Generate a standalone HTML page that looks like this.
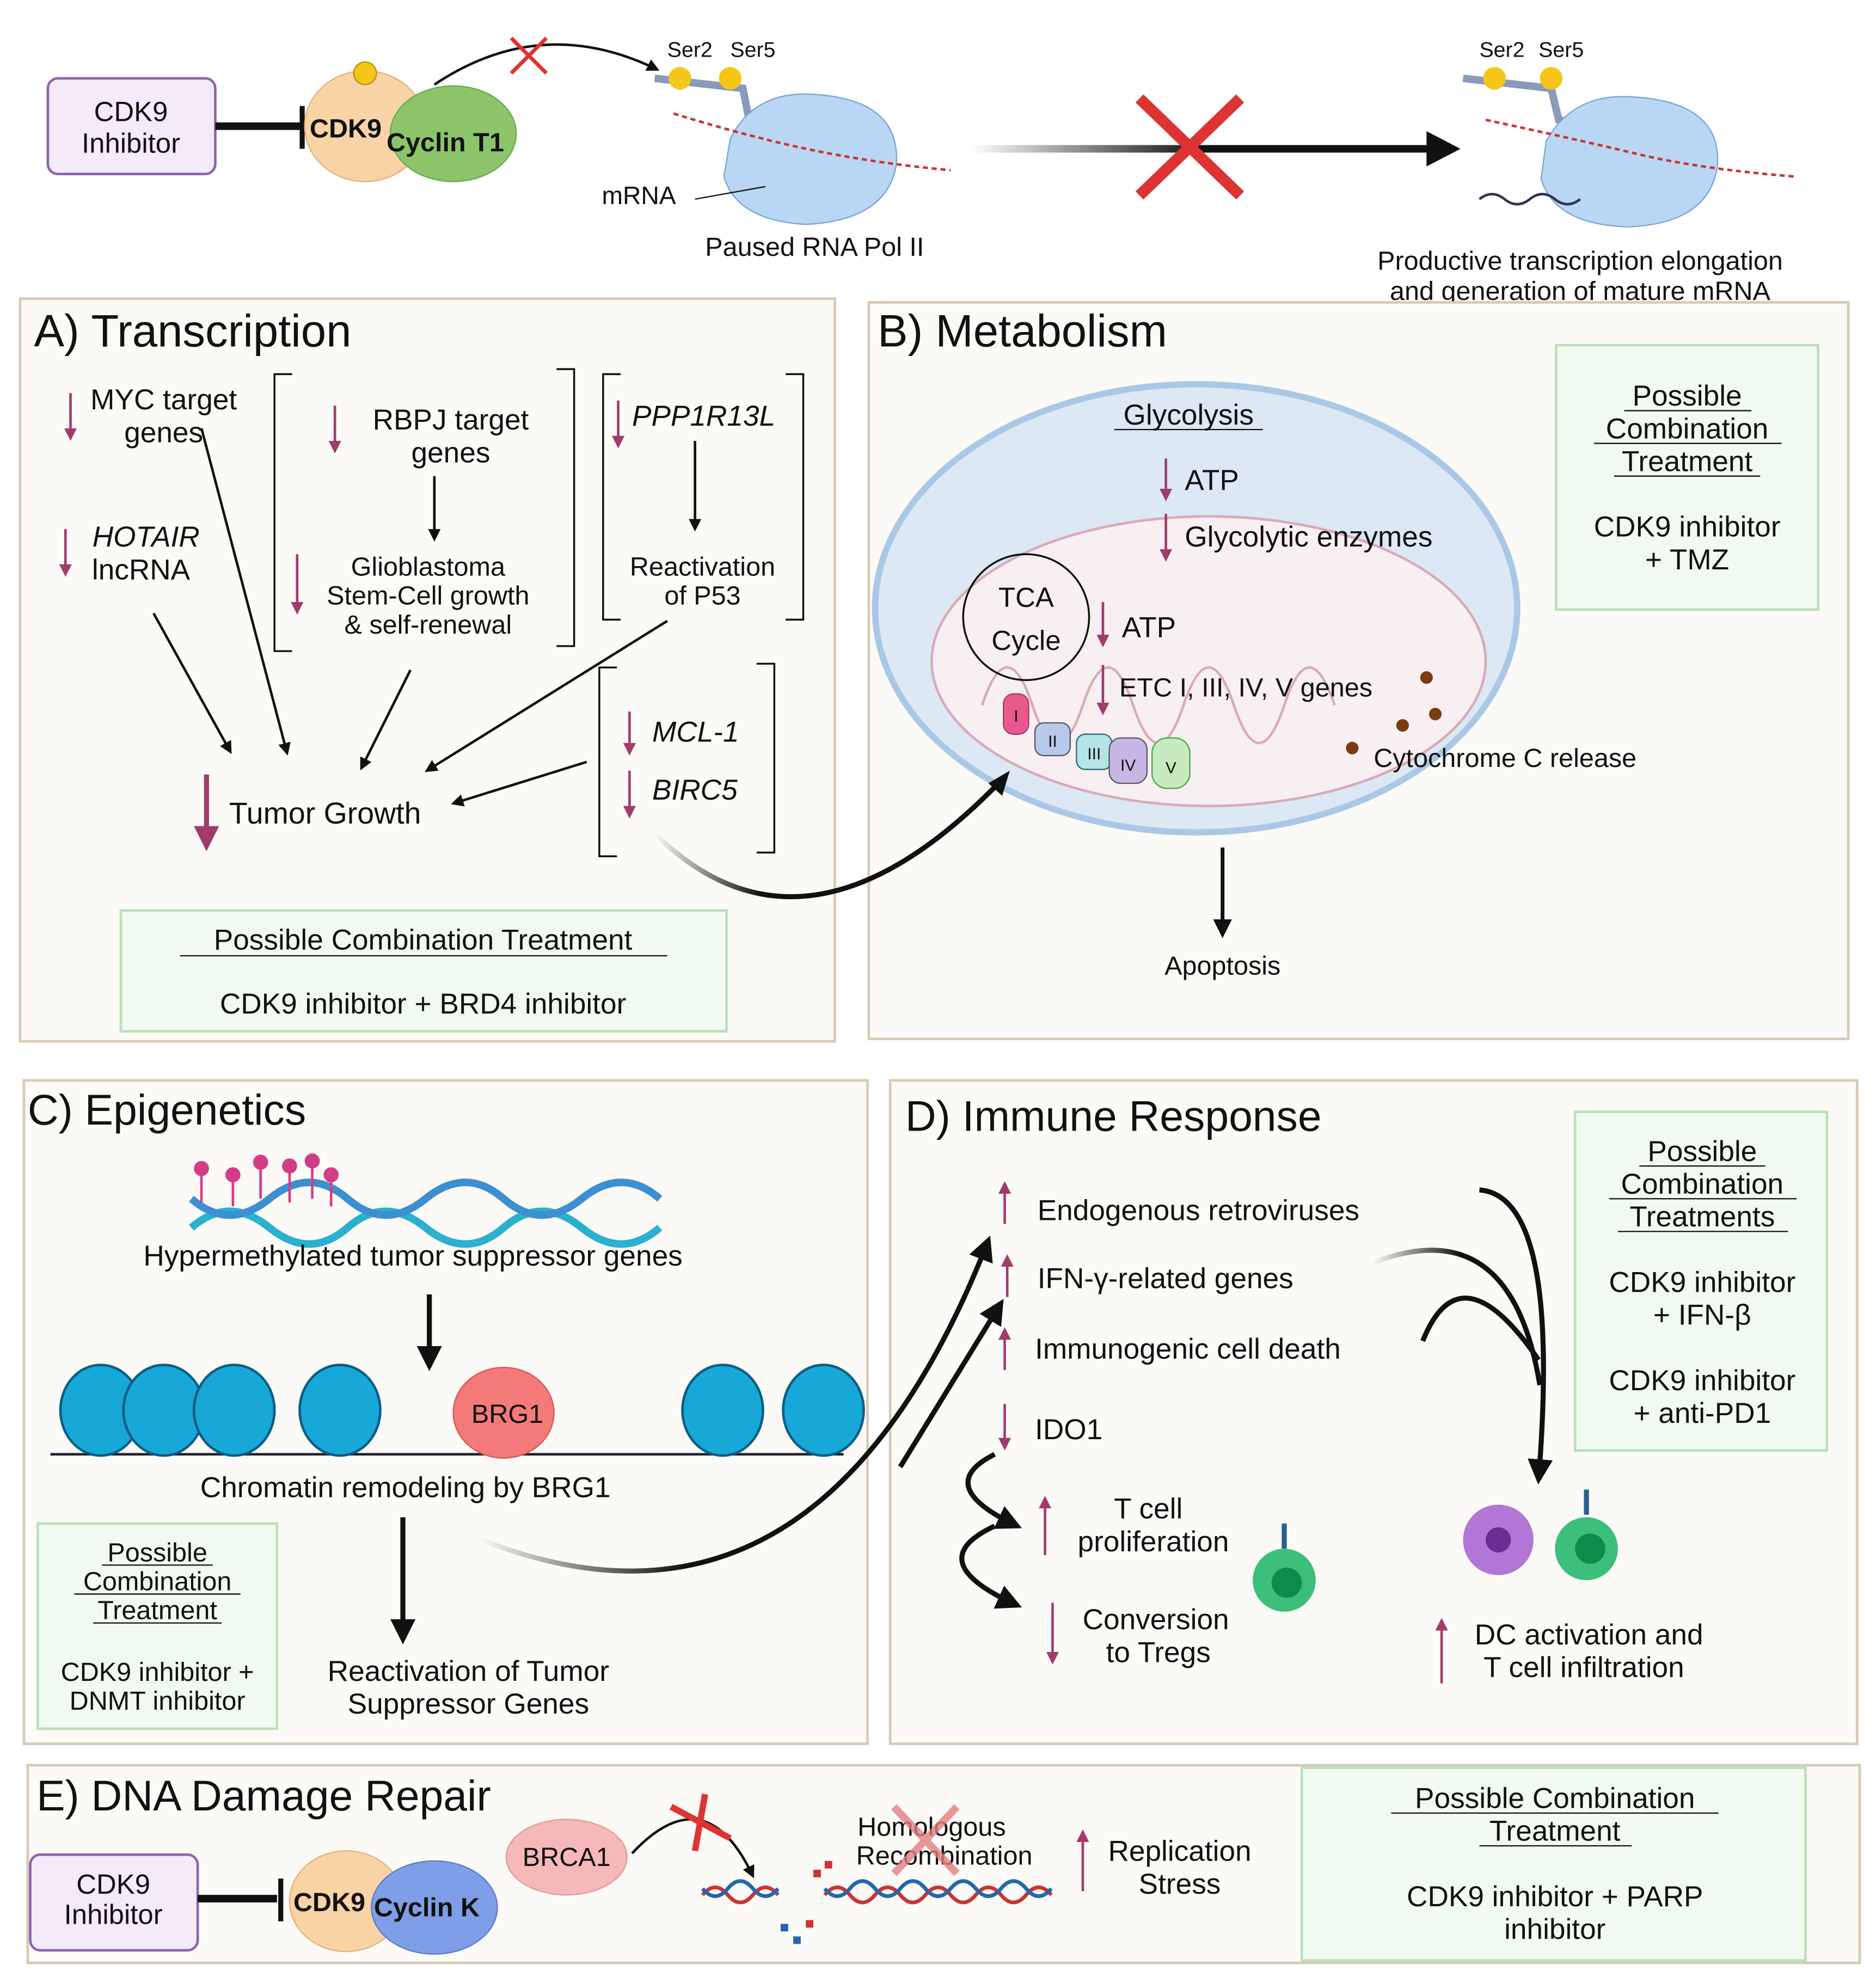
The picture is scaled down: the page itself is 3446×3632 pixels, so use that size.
<!DOCTYPE html>
<html><head><meta charset="utf-8"><style>
html,body{margin:0;padding:0;background:#fff;}
svg{display:block;}
text{font-family:"Liberation Sans",sans-serif;fill:#111;}
</style></head><body>
<svg width="3446" height="3632" viewBox="0 0 1490 1570" xmlns="http://www.w3.org/2000/svg">
<defs>
<marker id="ab" viewBox="0 0 10 10" refX="8" refY="5" markerWidth="5" markerHeight="5" orient="auto"><path d="M0,0L10,5L0,10z" fill="#111"/></marker>
<marker id="ap" viewBox="0 0 10 10" refX="8" refY="5" markerWidth="5" markerHeight="5" orient="auto"><path d="M0,0L10,5L0,10z" fill="#a33a6c"/></marker>
<linearGradient id="gf" gradientUnits="userSpaceOnUse" x1="770" y1="0" x2="1140" y2="0"><stop offset="0" stop-color="#111" stop-opacity="0"/><stop offset="0.5" stop-color="#111"/><stop offset="1" stop-color="#111"/></linearGradient>
<linearGradient id="gAB" gradientUnits="userSpaceOnUse" x1="520" y1="0" x2="800" y2="0"><stop offset="0" stop-color="#111" stop-opacity="0"/><stop offset="0.3" stop-color="#111"/><stop offset="1" stop-color="#111"/></linearGradient>
<linearGradient id="gCD" gradientUnits="userSpaceOnUse" x1="380" y1="0" x2="790" y2="0"><stop offset="0" stop-color="#111" stop-opacity="0"/><stop offset="0.4" stop-color="#111"/><stop offset="1" stop-color="#111"/></linearGradient>
<linearGradient id="gD" gradientUnits="userSpaceOnUse" x1="1090" y1="0" x2="1230" y2="0"><stop offset="0" stop-color="#111" stop-opacity="0"/><stop offset="0.5" stop-color="#111"/><stop offset="1" stop-color="#111"/></linearGradient>
</defs>
<rect width="1490" height="1570" fill="#fff"/>

<!-- TOP -->
<rect x="38" y="62" width="133" height="76" rx="8" fill="#f3eafa" stroke="#8f63ad" stroke-width="2"/>
<text x="104" y="96" font-size="22" text-anchor="middle">CDK9</text>
<text x="104" y="121" font-size="22" text-anchor="middle">Inhibitor</text>
<line x1="171" y1="100" x2="238" y2="100" stroke="#111" stroke-width="6"/>
<line x1="240" y1="84" x2="240" y2="118" stroke="#111" stroke-width="4"/>
<ellipse cx="290" cy="100" rx="48" ry="44" fill="#f8d3a6" stroke="#e6b27a"/>
<ellipse cx="360" cy="106" rx="50" ry="38" fill="#8cc46a" stroke="#6aa84f"/>
<circle cx="290" cy="58" r="9" fill="#f5c518" stroke="#b8900c"/>
<text x="246" y="109" font-size="21" font-weight="bold">CDK9</text>
<text x="307" y="120" font-size="21" font-weight="bold">Cyclin T1</text>
<path d="M345,67 Q430,10 522,55" fill="none" stroke="#111" stroke-width="2" marker-end="url(#ab)"/>
<path d="M406,30L434,58M434,30L406,58" stroke="#d33" stroke-width="3"/>
<text x="530" y="45" font-size="17">Ser2</text><text x="580" y="45" font-size="17">Ser5</text>
<path d="M520,62 L590,70 L595,95 L620,100" fill="none" stroke="#8a9ab8" stroke-width="6"/>
<circle cx="540" cy="62" r="9" fill="#f5c518"/><circle cx="580" cy="62" r="9" fill="#f5c518"/>
<path d="M580,110 Q600,70 650,75 Q715,80 712,130 Q705,175 640,178 Q585,175 575,140z" fill="#b9d6f4" stroke="#7aa6d6"/>
<path d="M535,90 Q600,110 650,120 T755,135" fill="none" stroke="#c33" stroke-width="2" stroke-dasharray="4 3"/>
<text x="478" y="162" font-size="20">mRNA</text>
<line x1="552" y1="158" x2="608" y2="148" stroke="#111"/>
<text x="647" y="203" font-size="21" text-anchor="middle">Paused RNA Pol II</text>
<line x1="770" y1="118" x2="1140" y2="118" stroke="url(#gf)" stroke-width="6"/>
<path d="M1133,104 L1160,118 L1133,132z" fill="#111"/>
<path d="M905,78L985,155M985,78L905,155" stroke="#d33" stroke-width="9"/>
<text x="1175" y="45" font-size="17">Ser2</text><text x="1222" y="45" font-size="17">Ser5</text>
<path d="M1162,62 L1232,70 L1238,95 L1262,100" fill="none" stroke="#8a9ab8" stroke-width="6"/>
<circle cx="1187" cy="62" r="9" fill="#f5c518"/><circle cx="1232" cy="62" r="9" fill="#f5c518"/>
<path d="M1228,112 Q1250,72 1300,77 Q1368,82 1364,132 Q1357,178 1292,180 Q1235,178 1224,142z" fill="#b9d6f4" stroke="#7aa6d6"/>
<path d="M1180,95 Q1250,110 1300,122 T1425,140" fill="none" stroke="#c33" stroke-width="2" stroke-dasharray="4 3"/>
<path d="M1175,158 q10,-8 20,0 t20,0 t20,0 t20,0" fill="none" stroke="#335" stroke-width="2"/>
<text x="1255" y="214" font-size="21" text-anchor="middle">Productive transcription elongation</text>
<text x="1255" y="238" font-size="21" text-anchor="middle">and generation of mature mRNA</text>

<!-- PANEL A -->
<rect x="16" y="237" width="647" height="590" fill="#fbfaf6" stroke="#d6c9b4" stroke-width="2"/>
<text x="27" y="275" font-size="36">A) Transcription</text>
<g stroke="#a33a6c" stroke-width="2" marker-end="url(#ap)">
<line x1="56" y1="312" x2="56" y2="348"/><line x1="52" y1="420" x2="52" y2="456"/>
<line x1="266" y1="322" x2="266" y2="358"/><line x1="236" y1="440" x2="236" y2="486"/>
<line x1="491" y1="318" x2="491" y2="354"/><line x1="500" y1="565" x2="500" y2="598"/>
<line x1="500" y1="612" x2="500" y2="648"/>
</g>
<line x1="164" y1="615" x2="164" y2="672" stroke="#a33a6c" stroke-width="4" marker-end="url(#ap)"/>
<text x="130" y="325" font-size="23" text-anchor="middle">MYC target</text>
<text x="130" y="351" font-size="23" text-anchor="middle">genes</text>
<text x="116" y="434" font-size="23" text-anchor="middle" font-style="italic">HOTAIR</text>
<text x="112" y="460" font-size="23" text-anchor="middle">lncRNA</text>
<path d="M232,297h-14v220h14M442,293h14v220h-14" fill="none" stroke="#111" stroke-width="1.5"/>
<text x="358" y="341" font-size="23" text-anchor="middle">RBPJ target</text>
<text x="358" y="367" font-size="23" text-anchor="middle">genes</text>
<line x1="345" y1="378" x2="345" y2="428" stroke="#111" stroke-width="2" marker-end="url(#ab)"/>
<text x="340" y="457" font-size="21" text-anchor="middle">Glioblastoma</text>
<text x="340" y="480" font-size="21" text-anchor="middle">Stem-Cell growth</text>
<text x="340" y="503" font-size="21" text-anchor="middle">&amp; self-renewal</text>
<path d="M493,297h-14v195h14M624,297h14v195h-14" fill="none" stroke="#111" stroke-width="1.5"/>
<text x="502" y="338" font-size="23" font-style="italic">PPP1R13L</text>
<line x1="552" y1="350" x2="552" y2="420" stroke="#111" stroke-width="2" marker-end="url(#ab)"/>
<text x="558" y="457" font-size="21" text-anchor="middle">Reactivation</text>
<text x="558" y="480" font-size="21" text-anchor="middle">of P53</text>
<path d="M490,530h-14v150h14M601,527h14v150h-14" fill="none" stroke="#111" stroke-width="1.5"/>
<text x="518" y="589" font-size="23" font-style="italic">MCL-1</text>
<text x="518" y="635" font-size="23" font-style="italic">BIRC5</text>
<text x="182" y="654" font-size="24">Tumor Growth</text>
<g stroke="#111" stroke-width="2" marker-end="url(#ab)" fill="none">
<line x1="122" y1="487" x2="183" y2="597"/><line x1="160" y1="340" x2="228" y2="598"/>
<line x1="326" y1="532" x2="287" y2="610"/><line x1="530" y1="493" x2="339" y2="612"/>
<line x1="466" y1="605" x2="360" y2="638"/>
</g>
<rect x="96" y="723" width="481" height="96" fill="#f1faf1" stroke="#b9e0bb" stroke-width="2"/>
<text x="336" y="754" font-size="23" text-anchor="middle">Possible Combination Treatment</text>
<line x1="143" y1="759" x2="530" y2="759" stroke="#111"/>
<text x="336" y="805" font-size="23" text-anchor="middle">CDK9 inhibitor + BRD4 inhibitor</text>

<!-- PANEL B -->
<rect x="690" y="240" width="778" height="585" fill="#fbfaf6" stroke="#d6c9b4" stroke-width="2"/>
<text x="697" y="275" font-size="36">B) Metabolism</text>
<ellipse cx="950" cy="483" rx="255" ry="178" fill="#dce8f4" stroke="#aac8e6" stroke-width="5"/>
<ellipse cx="960" cy="525" rx="220" ry="115" fill="#f7eff1" stroke="#d9aab8" stroke-width="2"/>
<path d="M780,560 q20,-60 40,0 q20,60 40,0 q20,-60 40,0 q20,60 40,0 q20,-60 40,0 q20,60 40,0 q20,-60 40,0" fill="none" stroke="#d9aab8" stroke-width="2"/>
<text x="944" y="337" font-size="23" text-anchor="middle">Glycolysis</text>
<line x1="885" y1="341" x2="1003" y2="341" stroke="#111"/>
<g stroke="#a33a6c" stroke-width="2" marker-end="url(#ap)">
<line x1="926" y1="364" x2="926" y2="396"/><line x1="926" y1="408" x2="926" y2="444"/>
<line x1="876" y1="478" x2="876" y2="512"/><line x1="876" y1="528" x2="876" y2="566"/>
</g>
<text x="941" y="389" font-size="23">ATP</text>
<text x="941" y="434" font-size="23">Glycolytic enzymes</text>
<circle cx="815" cy="490" r="50" fill="none" stroke="#111" stroke-width="1.5"/>
<text x="815" y="482" font-size="22" text-anchor="middle">TCA</text>
<text x="815" y="516" font-size="22" text-anchor="middle">Cycle</text>
<text x="891" y="506" font-size="23">ATP</text>
<text x="889" y="553" font-size="21">ETC I, III, IV, V genes</text>
<rect x="797" y="551" width="20" height="32" rx="8" fill="#e85a8c" stroke="#a33a6c"/>
<rect x="822" y="574" width="28" height="26" rx="7" fill="#b8c8e8" stroke="#556"/>
<rect x="855" y="583" width="28" height="28" rx="7" fill="#b4e4e6" stroke="#367"/>
<rect x="881" y="586" width="30" height="36" rx="9" fill="#c6b8e4" stroke="#556"/>
<rect x="915" y="586" width="30" height="40" rx="12" fill="#c8eac0" stroke="#4a4"/>
<text x="807" y="573" font-size="13" text-anchor="middle">I</text>
<text x="836" y="593" font-size="13" text-anchor="middle">II</text>
<text x="869" y="603" font-size="13" text-anchor="middle">III</text>
<text x="896" y="612" font-size="13" text-anchor="middle">IV</text>
<text x="930" y="614" font-size="13" text-anchor="middle">V</text>
<g fill="#7a3d12"><circle cx="1133" cy="538" r="5"/><circle cx="1114" cy="576" r="5"/><circle cx="1140" cy="567" r="5"/><circle cx="1074" cy="594" r="5"/></g>
<text x="1091" y="609" font-size="21">Cytochrome C release</text>
<line x1="971" y1="673" x2="971" y2="742" stroke="#111" stroke-width="3" marker-end="url(#ab)"/>
<text x="971" y="774" font-size="21" text-anchor="middle">Apoptosis</text>
<rect x="1236" y="274" width="208" height="210" fill="#f1faf1" stroke="#b9e0bb" stroke-width="2"/>
<g font-size="23" text-anchor="middle">
<text x="1340" y="322">Possible</text><text x="1340" y="348">Combination</text><text x="1340" y="374">Treatment</text>
<text x="1340" y="426">CDK9 inhibitor</text><text x="1340" y="452">+ TMZ</text></g>
<g stroke="#111"><line x1="1290" y1="326" x2="1391" y2="326"/><line x1="1266" y1="352" x2="1415" y2="352"/><line x1="1282" y1="378" x2="1398" y2="378"/></g>

<!-- PANEL C -->
<rect x="19" y="858" width="670" height="527" fill="#fbfaf6" stroke="#d6c9b4" stroke-width="2"/>
<text x="22" y="893" font-size="34">C) Epigenetics</text>
<path d="M152,975 q30,-26 62,0 t62,0 t62,0 t62,0 t62,0 t62,0" fill="none" stroke="#2ab0d0" stroke-width="6"/>
<path d="M152,952 q30,26 62,0 t62,0 t62,0 t62,0 t62,0 t62,0" fill="none" stroke="#3c8fd0" stroke-width="6"/>
<g stroke="#d43d86" stroke-width="2" fill="#d43d86">
<line x1="160" y1="930" x2="160" y2="955"/><circle cx="160" cy="928" r="5"/>
<line x1="185" y1="935" x2="185" y2="958"/><circle cx="185" cy="933" r="5"/>
<line x1="207" y1="925" x2="207" y2="952"/><circle cx="207" cy="923" r="5"/>
<line x1="230" y1="928" x2="230" y2="955"/><circle cx="230" cy="926" r="5"/>
<line x1="248" y1="924" x2="248" y2="952"/><circle cx="248" cy="922" r="5"/>
<line x1="263" y1="935" x2="263" y2="958"/><circle cx="263" cy="933" r="5"/></g>
<text x="328" y="1005" font-size="23" text-anchor="middle">Hypermethylated tumor suppressor genes</text>
<line x1="341" y1="1028" x2="341" y2="1085" stroke="#111" stroke-width="4" marker-end="url(#ab)"/>
<line x1="40" y1="1155" x2="670" y2="1155" stroke="#223" stroke-width="2"/>
<g fill="#18a8d8" stroke="#0b5e88" stroke-width="2">
<ellipse cx="80" cy="1120" rx="32" ry="36"/><ellipse cx="130" cy="1120" rx="32" ry="36"/><ellipse cx="186" cy="1120" rx="32" ry="36"/>
<ellipse cx="270" cy="1120" rx="32" ry="36"/><ellipse cx="574" cy="1120" rx="32" ry="36"/><ellipse cx="654" cy="1120" rx="32" ry="36"/></g>
<ellipse cx="400" cy="1122" rx="40" ry="36" fill="#f47a7a" stroke="#d55"/>
<text x="403" y="1130" font-size="21" text-anchor="middle">BRG1</text>
<text x="322" y="1189" font-size="23" text-anchor="middle">Chromatin remodeling by BRG1</text>
<line x1="320" y1="1205" x2="320" y2="1302" stroke="#111" stroke-width="4" marker-end="url(#ab)"/>
<text x="372" y="1335" font-size="23" text-anchor="middle">Reactivation of Tumor</text>
<text x="372" y="1361" font-size="23" text-anchor="middle">Suppressor Genes</text>
<rect x="30" y="1210" width="190" height="163" fill="#f1faf1" stroke="#b9e0bb" stroke-width="2"/>
<g font-size="21" text-anchor="middle">
<text x="125" y="1240">Possible</text><text x="125" y="1263">Combination</text><text x="125" y="1286">Treatment</text>
<text x="125" y="1335">CDK9 inhibitor +</text><text x="125" y="1358">DNMT inhibitor</text></g>
<g stroke="#111"><line x1="81" y1="1243" x2="169" y2="1243"/><line x1="59" y1="1266" x2="191" y2="1266"/><line x1="74" y1="1289" x2="176" y2="1289"/></g>

<!-- PANEL D -->
<rect x="707" y="858" width="768" height="527" fill="#fbfaf6" stroke="#d6c9b4" stroke-width="2"/>
<text x="719" y="898" font-size="34">D) Immune Response</text>
<g stroke="#a33a6c" stroke-width="2" marker-end="url(#ap)">
<line x1="798" y1="972" x2="798" y2="940"/><line x1="800" y1="1030" x2="800" y2="998"/>
<line x1="798" y1="1088" x2="798" y2="1056"/><line x1="798" y1="1115" x2="798" y2="1150"/>
<line x1="830" y1="1235" x2="830" y2="1190"/><line x1="836" y1="1273" x2="836" y2="1320"/>
<line x1="1145" y1="1337" x2="1145" y2="1287"/></g>
<text x="824" y="969" font-size="23">Endogenous retroviruses</text>
<text x="824" y="1023" font-size="23">IFN-γ-related genes</text>
<text x="822" y="1079" font-size="23">Immunogenic cell death</text>
<text x="822" y="1143" font-size="23">IDO1</text>
<text x="912" y="1206" font-size="23" text-anchor="middle">T cell</text>
<text x="916" y="1232" font-size="23" text-anchor="middle">proliferation</text>
<text x="918" y="1294" font-size="23" text-anchor="middle">Conversion</text>
<text x="920" y="1320" font-size="23" text-anchor="middle">to Tregs</text>
<path d="M790,1155 Q740,1180 808,1212" fill="none" stroke="#111" stroke-width="4" marker-end="url(#ab)"/>
<path d="M790,1212 Q730,1240 808,1275" fill="none" stroke="#111" stroke-width="4" marker-end="url(#ab)"/>
<circle cx="1020" cy="1255" r="25" fill="#3bbf7a"/><circle cx="1022" cy="1257" r="12" fill="#0e8a4a"/>
<line x1="1020" y1="1210" x2="1020" y2="1230" stroke="#2a5f90" stroke-width="4"/>
<circle cx="1190" cy="1223" r="28" fill="#b276d6"/><circle cx="1190" cy="1223" r="10" fill="#6a2e90"/>
<circle cx="1260" cy="1230" r="25" fill="#3bbf7a"/><circle cx="1263" cy="1230" r="12" fill="#0e8a4a"/>
<line x1="1260" y1="1183" x2="1260" y2="1203" stroke="#2a5f90" stroke-width="4"/>
<text x="1262" y="1306" font-size="23" text-anchor="middle">DC activation and</text>
<text x="1258" y="1332" font-size="23" text-anchor="middle">T cell infiltration</text>
<path d="M1175,945 Q1240,950 1222,1175" fill="none" stroke="#111" stroke-width="4" marker-end="url(#ab)"/>
<path d="M1090,1003 Q1200,960 1223,1100" fill="none" stroke="url(#gD)" stroke-width="4"/>
<path d="M1130,1065 Q1160,990 1222,1080" fill="none" stroke="#111" stroke-width="4"/>
<rect x="1251" y="883" width="200" height="269" fill="#f1faf1" stroke="#b9e0bb" stroke-width="2"/>
<g font-size="23" text-anchor="middle">
<text x="1352" y="922">Possible</text><text x="1352" y="948">Combination</text><text x="1352" y="974">Treatments</text>
<text x="1352" y="1026">CDK9 inhibitor</text><text x="1352" y="1052">+ IFN-β</text>
<text x="1352" y="1104">CDK9 inhibitor</text><text x="1352" y="1130">+ anti-PD1</text></g>
<g stroke="#111"><line x1="1302" y1="926" x2="1402" y2="926"/><line x1="1278" y1="952" x2="1427" y2="952"/><line x1="1285" y1="978" x2="1420" y2="978"/></g>

<!-- PANEL E -->
<rect x="22" y="1402" width="1455" height="157" fill="#fbfaf6" stroke="#d6c9b4" stroke-width="2"/>
<text x="29" y="1438" font-size="34">E) DNA Damage Repair</text>
<rect x="24" y="1473" width="133" height="76" rx="8" fill="#f3eafa" stroke="#8f63ad" stroke-width="2"/>
<text x="90" y="1504" font-size="22" text-anchor="middle">CDK9</text>
<text x="90" y="1528" font-size="22" text-anchor="middle">Inhibitor</text>
<line x1="157" y1="1508" x2="220" y2="1508" stroke="#111" stroke-width="6"/>
<line x1="223" y1="1492" x2="223" y2="1526" stroke="#111" stroke-width="4"/>
<ellipse cx="275" cy="1510" rx="45" ry="40" fill="#f8d3a6" stroke="#e6b27a"/>
<ellipse cx="345" cy="1515" rx="50" ry="37" fill="#7f9ee8" stroke="#5a7cc8"/>
<text x="233" y="1518" font-size="21" font-weight="bold">CDK9</text>
<text x="297" y="1522" font-size="21" font-weight="bold">Cyclin K</text>
<ellipse cx="450" cy="1475" rx="48" ry="30" fill="#f6b8b8" stroke="#e89a9a"/>
<text x="450" y="1482" font-size="21" text-anchor="middle">BRCA1</text>
<path d="M502,1472 Q560,1410 598,1490" fill="none" stroke="#111" stroke-width="2" marker-end="url(#ab)"/>
<path d="M533,1435L580,1460M560,1425L552,1470" stroke="#d33" stroke-width="5"/>
<path d="M558,1505 q10,-12 20,0 t20,0 t20,0" fill="none" stroke="#c33" stroke-width="3"/>
<path d="M558,1500 q10,12 20,0 t20,0 t20,0" fill="none" stroke="#2467b0" stroke-width="3"/>
<path d="M655,1505 q10,-12 20,0 t20,0 t20,0 t20,0 t20,0 t20,0 t20,0 t20,0 t20,0" fill="none" stroke="#c33" stroke-width="3"/>
<path d="M655,1500 q10,12 20,0 t20,0 t20,0 t20,0 t20,0 t20,0 t20,0 t20,0 t20,0" fill="none" stroke="#2467b0" stroke-width="3"/>
<g fill="#c33"><rect x="646" y="1485" width="6" height="6"/><rect x="640" y="1525" width="6" height="6"/><rect x="655" y="1478" width="6" height="6"/></g>
<g fill="#2467b0"><rect x="620" y="1528" width="6" height="6"/><rect x="630" y="1538" width="6" height="6"/></g>
<text x="740" y="1458" font-size="21" text-anchor="middle">Homologous</text>
<text x="750" y="1481" font-size="21" text-anchor="middle">Recombination</text>
<path d="M710,1435L760,1488M760,1435L710,1488" stroke="#e08080" stroke-width="6" opacity="0.8"/>
<line x1="860" y1="1502" x2="860" y2="1455" stroke="#a33a6c" stroke-width="2" marker-end="url(#ap)"/>
<text x="937" y="1478" font-size="23" text-anchor="middle">Replication</text>
<text x="937" y="1504" font-size="23" text-anchor="middle">Stress</text>
<rect x="1034" y="1404" width="400" height="153" fill="#f1faf1" stroke="#b9e0bb" stroke-width="2"/>
<g font-size="23" text-anchor="middle">
<text x="1235" y="1436">Possible Combination</text><text x="1235" y="1462">Treatment</text>
<text x="1235" y="1514">CDK9 inhibitor + PARP</text><text x="1235" y="1540">inhibitor</text></g>
<g stroke="#111"><line x1="1105" y1="1440" x2="1365" y2="1440"/><line x1="1175" y1="1466" x2="1296" y2="1466"/></g>

<!-- cross-panel arrows on top -->
<path d="M520,662 Q640,780 795,620" fill="none" stroke="url(#gAB)" stroke-width="4"/>
<path d="M785,622 L802,612 L796,632z" fill="#111"/>
<path d="M380,1222 Q650,1330 785,985" fill="none" stroke="url(#gCD)" stroke-width="4" marker-end="url(#ab)"/>
<path d="M715,1165 L795,1035" fill="none" stroke="#111" stroke-width="4" marker-end="url(#ab)"/>
</svg>
</body></html>
